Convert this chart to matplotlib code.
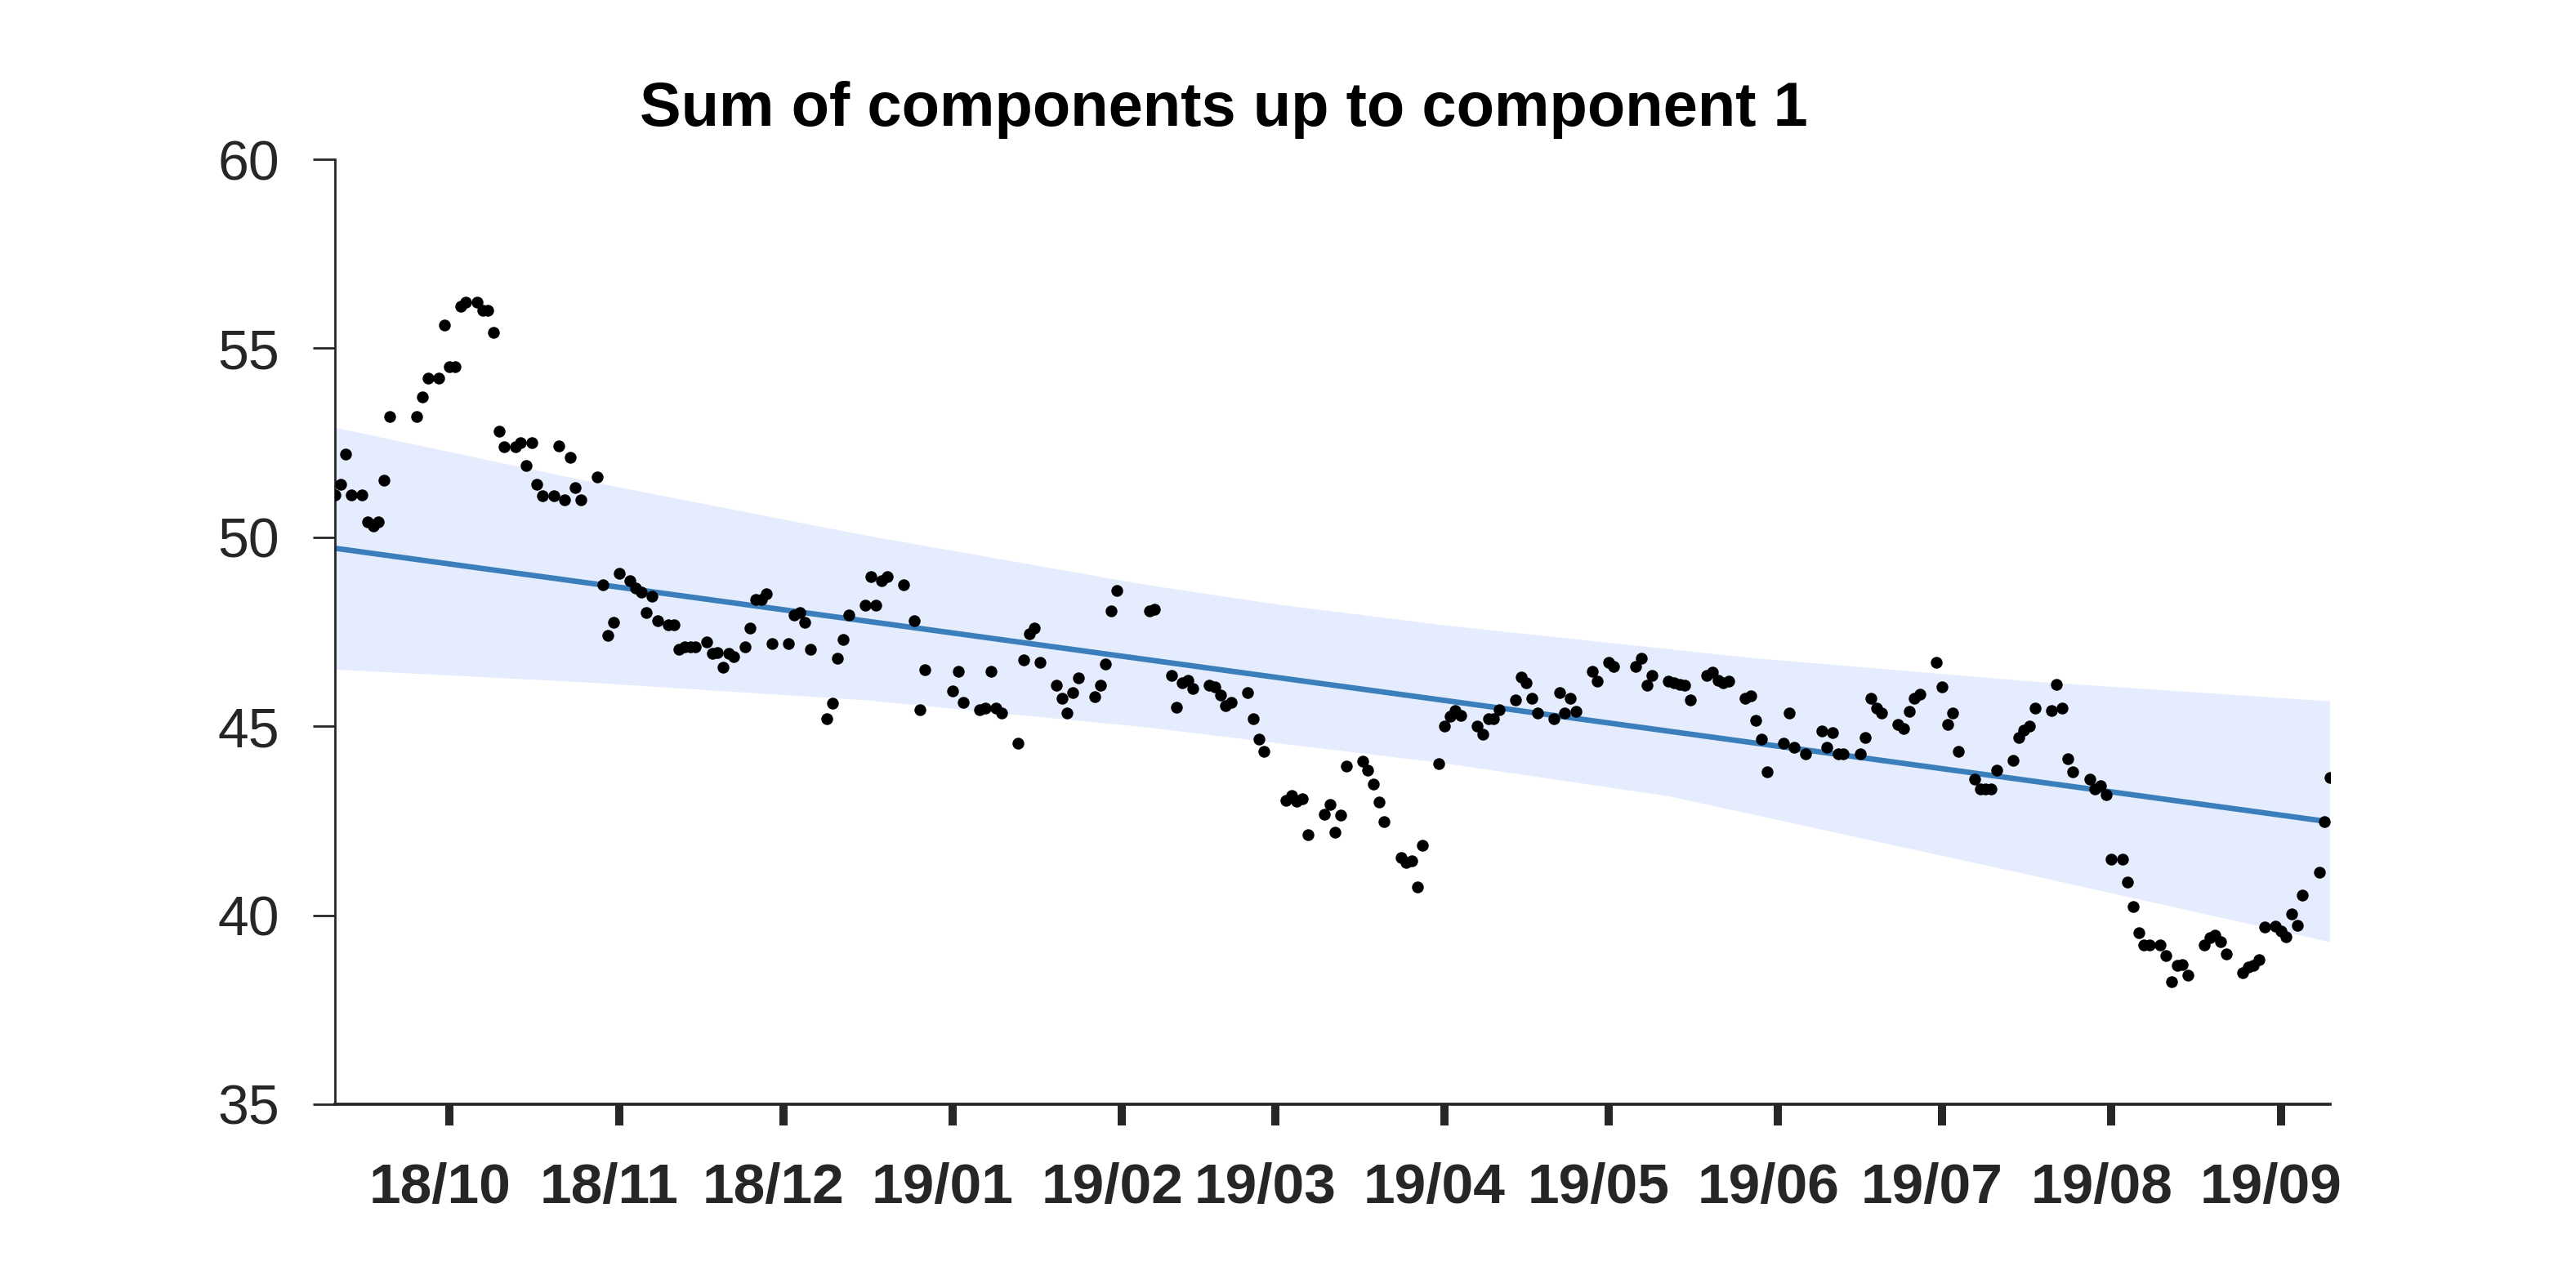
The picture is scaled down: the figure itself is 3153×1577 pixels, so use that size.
"""Sum of components up to component 1 -- scatter of the daily values, linear trend and band."""
import numpy as np
import pandas as pd
import matplotlib
matplotlib.use("Agg")
import matplotlib.pyplot as plt
import matplotlib.dates as mdates
import matplotlib.transforms as mtransforms

# ── Data ──────────────────────────────────────────────────────────────────
START = pd.Timestamp("2018-09-10")

day_offset = [
    0, 1, 2, 3, 5, 6, 7, 8, 9, 10, 15, 16, 17, 19, 20, 21, 22, 23, 24, 26,
    27, 28, 29, 30, 31, 33, 34, 35, 36, 37, 38, 40, 41, 42, 43, 44, 45, 48, 49, 50,
    51, 52, 54, 55, 56, 57, 58, 59, 61, 62, 63, 64, 65, 66, 68, 69, 70, 71, 72, 73,
    75, 76, 77, 78, 79, 80, 83, 84, 85, 86, 87, 90, 91, 92, 93, 94, 97, 98, 99, 100,
    101, 104, 106, 107, 108, 113, 114, 115, 118, 119, 120, 121, 122, 125, 126, 127, 128, 129, 132, 133,
    134, 135, 136, 139, 140, 141, 142, 143, 149, 150, 153, 154, 155, 156, 157, 160, 161, 162, 163, 164,
    167, 168, 169, 170, 174, 175, 176, 177, 178, 181, 182, 183, 184, 185, 188, 189, 190, 191, 192, 195,
    196, 197, 198, 199, 202, 203, 204, 205, 206, 209, 210, 211, 212, 213, 216, 217, 218, 219, 220, 223,
    224, 225, 226, 227, 230, 231, 233, 234, 238, 239, 240, 241, 244, 245, 246, 247, 248, 251, 252, 253,
    254, 255, 258, 259, 260, 261, 262, 265, 266, 267, 269, 272, 273, 274, 275, 276, 279, 280, 281, 282,
    283, 286, 287, 288, 289, 290, 293, 294, 295, 296, 297, 300, 301, 302, 303, 304, 307, 308, 309, 310,
    311, 314, 315, 316, 317, 318, 321, 322, 323, 324, 325, 327, 328, 329, 330, 331, 332, 334, 335, 336,
    337, 338, 339, 342, 343, 344, 345, 346, 349, 350, 351, 352, 353, 355, 356, 357, 358, 359, 360, 363,
    364, 365,
]
value = [
    51.11, 51.41, 52.20, 51.11, 51.11, 50.41, 50.30, 50.41, 51.51, 53.20, 53.20, 53.71, 54.21, 54.21, 55.62, 54.51, 54.51, 56.11, 56.22, 56.22,
    56.01, 56.01, 55.41, 52.81, 52.39, 52.39, 52.51, 51.90, 52.51, 51.40, 51.10, 51.10, 52.41, 51.00, 52.11, 51.31, 51.00, 51.60, 48.75, 47.40,
    47.75, 49.04, 48.85, 48.66, 48.54, 48.00, 48.44, 47.80, 47.69, 47.69, 47.04, 47.10, 47.10, 47.10, 47.24, 46.92, 46.95, 46.56, 46.92, 46.84,
    47.10, 47.59, 48.36, 48.36, 48.50, 47.19, 47.19, 47.94, 48.00, 47.75, 47.04, 45.19, 45.60, 46.79, 47.29, 47.95, 48.20, 48.96, 48.20, 48.85,
    48.96, 48.75, 47.80, 45.44, 46.50, 45.94, 46.45, 45.64, 45.44, 45.49, 46.45, 45.49, 45.34, 44.54, 46.75, 47.44, 47.60, 46.69, 46.09, 45.75,
    45.34, 45.89, 46.29, 45.78, 46.09, 46.64, 48.05, 48.60, 48.06, 48.09, 46.34, 45.50, 46.14, 46.21, 45.99, 46.09, 46.05, 45.83, 45.55, 45.64,
    45.89, 45.19, 44.65, 44.34, 43.04, 43.17, 43.01, 43.08, 42.14, 42.68, 42.94, 42.19, 42.64, 43.94, 44.08, 43.84, 43.48, 42.99, 42.48, 41.53,
    41.40, 41.44, 40.74, 41.84, 44.00, 45.00, 45.26, 45.42, 45.28, 45.01, 44.79, 45.20, 45.20, 45.44, 45.69, 46.30, 46.14, 45.74, 45.34, 45.20,
    45.89, 45.34, 45.74, 45.39, 46.45, 46.20, 46.70, 46.59, 46.59, 46.79, 46.09, 46.34, 46.20, 46.16, 46.10, 46.09, 45.69, 46.34, 46.43, 46.21,
    46.14, 46.20, 45.74, 45.80, 45.15, 44.65, 43.80, 44.54, 45.34, 44.44, 44.28, 44.88, 44.44, 44.84, 44.28, 44.28, 44.28, 44.70, 45.74, 45.49,
    45.34, 45.04, 44.95, 45.40, 45.74, 45.85, 46.70, 46.05, 45.04, 45.34, 44.34, 43.60, 43.33, 43.33, 43.33, 43.84, 44.09, 44.70, 44.90, 45.01,
    45.49, 45.42, 46.10, 45.49, 44.14, 43.80, 43.60, 43.35, 43.42, 43.19, 41.49, 41.49, 40.88, 40.23, 39.53, 39.22, 39.22, 39.22, 38.94, 38.23,
    38.68, 38.70, 38.42, 39.22, 39.40, 39.47, 39.29, 38.97, 38.48, 38.63, 38.68, 38.83, 39.69, 39.71, 39.58, 39.43, 40.03, 39.74, 40.54, 41.13,
    42.48, 43.64,
]

# linear trend (end points)
trend_day = [0, 365]
trend_val = [49.71, 42.47]

# uncertainty band edges
upper_day = [0, 46, 97, 148, 173, 203, 259, 309, 365]
upper_val = [52.90, 51.49, 50.05, 48.75, 48.21, 47.67, 46.81, 46.20, 45.66]
lower_day = [0, 46, 97, 148, 203, 244, 309, 365]
lower_val = [46.50, 46.16, 45.69, 44.98, 44.02, 43.15, 41.10, 39.29]

TITLE = "Sum of components up to component 1"


def to_dates(days):
    return START + pd.to_timedelta(np.asarray(days), unit="D")


def main() -> None:
    plt.rcParams["font.family"] = ["Liberation Sans", "DejaVu Sans"]
    dpi = 200
    fig = plt.figure(figsize=(3153 / dpi, 1577 / dpi), dpi=dpi)
    ax = fig.add_axes([0.130, 0.1427, 0.7745, 0.7336])

    # band
    ux, lx = to_dates(upper_day), to_dates(lower_day)
    poly_x = np.concatenate([mdates.date2num(ux), mdates.date2num(lx)[::-1]])
    poly_y = np.concatenate([upper_val, lower_val[::-1]])
    ax.fill(poly_x, poly_y, color="#e4ecfd", lw=0, zorder=1)

    # trend
    ax.plot(to_dates(trend_day), trend_val, color="#3a7ebb", lw=2.4, zorder=2,
            solid_capstyle="butt")

    # daily values
    ax.plot(to_dates(day_offset), value, "o", color="black", ms=5.2, mew=0, zorder=3)

    ax.set_xlim(to_dates([0])[0], to_dates([365])[0])
    ax.set_ylim(35, 60)
    ax.set_yticks([35, 40, 45, 50, 55, 60])
    ax.xaxis.set_major_locator(mdates.MonthLocator())
    ax.xaxis.set_major_formatter(mdates.DateFormatter("%y/%m"))

    for side in ("top", "right"):
        ax.spines[side].set_visible(False)
    ax.spines["left"].set_linewidth(1.0)
    ax.spines["bottom"].set_linewidth(1.35)
    ax.spines["left"].set_color("#262626")
    ax.spines["bottom"].set_color("#262626")

    ax.tick_params(axis="y", direction="out", length=9.7, width=1.0, pad=14.8,
                   labelsize=24.5, colors="#262626")
    ax.tick_params(axis="x", direction="out", length=9.4, width=3.6, pad=16,
                   labelsize=25, colors="#262626")
    shift = mtransforms.ScaledTranslation(-12 / dpi, 0, fig.dpi_scale_trans)
    for lab in ax.get_xticklabels():
        lab.set_fontweight("bold")
        lab.set_transform(lab.get_transform() + shift)

    fig.text(0.4752, 0.9025, TITLE, ha="center", va="baseline",
             fontsize=27.3, fontweight="bold", color="black")

    fig.savefig("out.png", dpi=dpi, facecolor="white")
    plt.close(fig)


if __name__ == "__main__":
    main()
